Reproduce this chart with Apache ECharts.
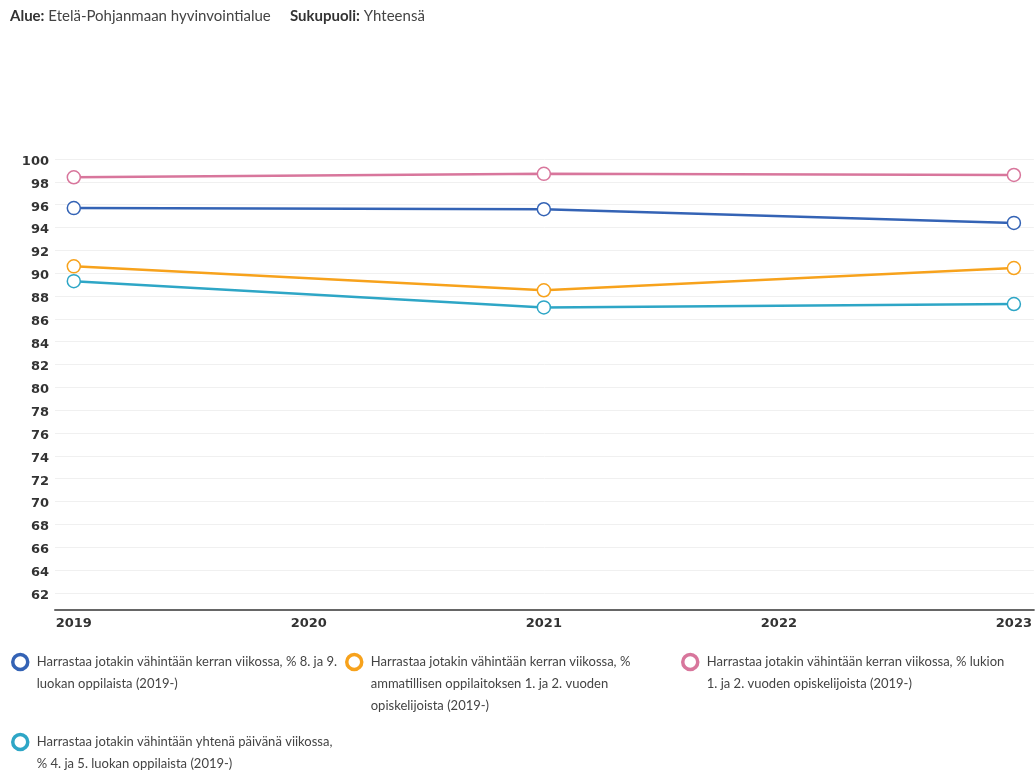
<!DOCTYPE html>
<html>
<head>
    <meta charset="utf-8" />
    <title></title>
    <style>
        html, body { margin: 0; padding: 0; background: #fff; }
        #linechart { width: 1035px; height: 772px; }
    </style>
</head>
<body>
    <div id="linechart"></div>
    <script src="https://cdn.jsdelivr.net/npm/echarts@6/dist/echarts.min.js"></script>
    <script>
        // data
        var years = [2019, 2021, 2023];
        var xTicks = [2019, 2020, 2021, 2022, 2023];
        var yTicks = [62, 64, 66, 68, 70, 72, 74, 76, 78, 80, 82, 84, 86, 88, 90, 92, 94, 96, 98, 100];

        var names = [
            'Harrastaa jotakin vähintään kerran viikossa, % 8. ja 9. luokan oppilaista (2019-)',
            'Harrastaa jotakin vähintään kerran viikossa, % ammatillisen oppilaitoksen 1. ja 2. vuoden opiskelijoista (2019-)',
            'Harrastaa jotakin vähintään kerran viikossa, % lukion 1. ja 2. vuoden opiskelijoista (2019-)',
            'Harrastaa jotakin vähintään yhtenä päivänä viikossa, % 4. ja 5. luokan oppilaista (2019-)'
        ];
        var wrapped = [
            ['Harrastaa jotakin vähintään kerran viikossa, % 8. ja 9.', 'luokan oppilaista (2019-)'],
            ['Harrastaa jotakin vähintään kerran viikossa, %', 'ammatillisen oppilaitoksen 1. ja 2. vuoden', 'opiskelijoista (2019-)'],
            ['Harrastaa jotakin vähintään kerran viikossa, % lukion', '1. ja 2. vuoden opiskelijoista (2019-)'],
            ['Harrastaa jotakin vähintään yhtenä päivänä viikossa,', '% 4. ja 5. luokan oppilaista (2019-)']
        ];
        var luokka89 = [95.7, 95.6, 94.4];
        var ammatillinen = [90.6, 88.5, 90.45];
        var lukio = [98.4, 98.7, 98.6];
        var luokka45 = [89.3, 87.0, 87.3];

        var colors = ['#3463b5', '#f7a21c', '#d8769c', '#2ea6c6'];
        var values = [luokka89, ammatillinen, lukio, luokka45];

        // left edge of each legend entry and y of its first text line
        var legendPos = [
            { left: 11, y: 662 },
            { left: 345, y: 662 },
            { left: 681, y: 662 },
            { left: 11, y: 742 }
        ];
        var lineH = 22;

        var series = names.map(function (n, i) {
            return {
                name: n,
                type: 'line',
                data: years.map(function (y, j) { return [y, values[i][j]]; }),
                symbol: 'circle',
                symbolSize: 13,
                lineStyle: { width: 2.5, color: colors[i] },
                itemStyle: { color: '#fff', borderColor: colors[i], borderWidth: 1.5, opacity: 1 },
                emphasis: { disabled: true }
            };
        });

        var legends = names.map(function (n, i) {
            // legend text is centred on the icon, so blank lines on top
            // bring the first real line level with the icon
            var lines = wrapped[i];
            var blanks = [];
            for (var k = 0; k < lines.length - 1; k++) blanks.push(' ');
            var txt = blanks.concat(lines).join('\n');
            var total = lines.length * 2 - 1;
            return {
                data: [{ name: n, itemStyle: { color: '#fff', borderColor: colors[i], borderWidth: 3.5 } }],
                left: legendPos[i].left,
                top: legendPos[i].y - total * lineH / 2,
                icon: 'circle',
                itemWidth: 15,
                itemHeight: 15,
                itemGap: 0,
                selectedMode: false,
                padding: 0,
                formatter: function () { return txt; },
                textStyle: {
                    fontFamily: 'Lato',
                    fontSize: 13,
                    color: '#444',
                    lineHeight: lineH,
                    padding: [0, 0, 0, 4]
                }
            };
        });

        var option = {
            backgroundColor: '#fff',
            animation: false,
            title: {
                text: '{b|Alue:} Etelä-Pohjanmaan hyvinvointialue     {b|Sukupuoli:} Yhteensä',
                left: 10,
                top: 9,
                padding: 0,
                textStyle: {
                    fontFamily: 'Lato',
                    fontSize: 15,
                    fontWeight: 'normal',
                    color: '#444',
                    rich: {
                        b: { fontFamily: 'Lato', fontSize: 15, fontWeight: 'bold', color: '#333' }
                    }
                }
            },
            legend: legends,
            grid: { left: 55, right: 1, top: 159, bottom: 162 },
            xAxis: {
                type: 'value',
                min: 2018.92,
                max: 2023.085,
                axisLine: { show: true, lineStyle: { color: '#666', width: 2 } },
                axisTick: { show: false },
                splitLine: { show: false },
                axisLabel: {
                    customValues: xTicks,
                    formatter: function (v) { return String(v); },
                    fontFamily: 'DejaVu Sans',
                    fontWeight: 'bold',
                    fontSize: 13,
                    color: '#333',
                    margin: 7
                }
            },
            yAxis: {
                type: 'value',
                min: 60.5,
                max: 100,
                axisLine: { show: false },
                axisTick: { show: false, customValues: yTicks },
                splitLine: { show: true, lineStyle: { color: '#f0f0f0', width: 1 } },
                axisLabel: {
                    customValues: yTicks,
                    fontFamily: 'DejaVu Sans',
                    fontWeight: 'bold',
                    fontSize: 13,
                    color: '#333',
                    margin: 6,
                    verticalAlign: 'top',
                    lineHeight: 5
                }
            },
            series: series
        };

        var lineChart = echarts.init(document.getElementById('linechart'));
        lineChart.setOption(option);
    </script>
</body>
</html>
